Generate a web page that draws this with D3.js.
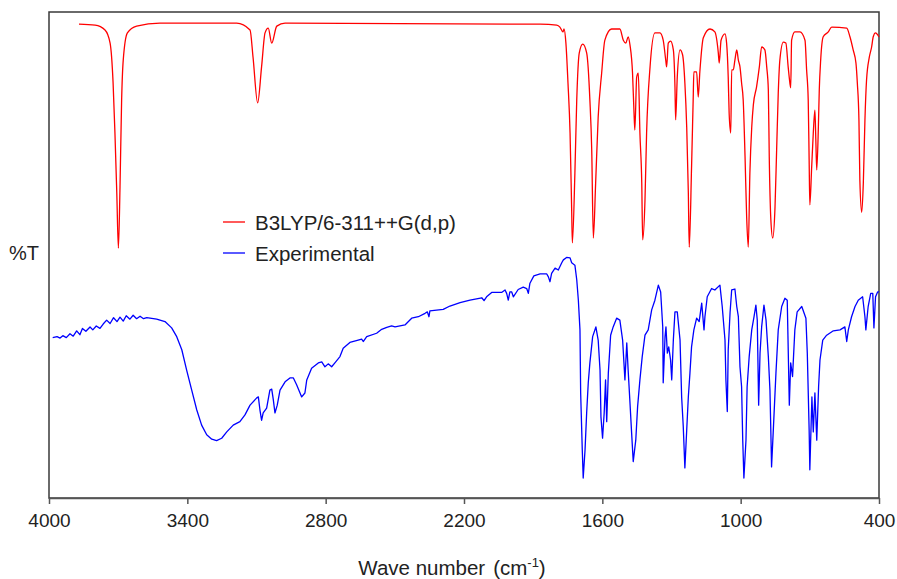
<!DOCTYPE html>
<html>
<head>
<meta charset="utf-8">
<title>IR spectrum</title>
<style>
  body { margin: 0; background: #fff; }
  text { font-family: "Liberation Sans", Arial, sans-serif; fill: #222; }
  .spec { fill: none; stroke-width: 1.3; stroke-linejoin: round; }
</style>
</head>
<body>
<svg width="897" height="579"></svg>
<script src="https://d3js.org/d3.v7.min.js"></script>
<script>
// tick labels of the wave number axis
var xTicks = [4000, 3400, 2800, 2200, 1600, 1000, 400];

// legend entries
var seriesNames = ["B3LYP/6-311++G(d,p)", "Experimental"];
var seriesColors = ["#ff0000", "#0000ff"];

// calculated spectrum: [wave number, %T (arbitrary)]
var calcSpectrum = [
  [3870,97.5],[3800,97.3],[3757,96.3],[3735,93.6],[3722,85.4],[3714,75.1],[3706,62.8],[3699,51.4],
  [3692,64.0],[3685,81.9],[3678,90.1],[3660,95.7],[3620,97.1],[3519,97.7],[3186,97.7],[3128,96.3],
  [3115,90.7],[3095,81.3],[3078,88.7],[3063,95.7],[3049,96.7],[3034,93.6],[3012,97.1],[2976,97.7],
  [1870,97.5],[1798,97.3],[1784,96.9],[1771,95.9],[1766,96.5],[1758,93.6],[1749,85.4],[1740,75.1],
  [1733,59.3],[1730,52.5],[1719,66.9],[1711,81.9],[1700,91.6],[1685,93.4],[1668,91.6],[1654,81.9],
  [1646,71.6],[1639,53.5],[1629,64.8],[1618,78.4],[1603,87.4],[1589,94.2],[1560,96.5],[1524,96.5],
  [1509,94.2],[1498,93.6],[1488,94.9],[1480,93.2],[1469,87.4],[1463,79.8],[1459,75.7],[1451,86.6],
  [1444,87.4],[1437,75.1],[1429,64.8],[1425,53.1],[1415,61.3],[1408,75.1],[1393,88.7],[1372,95.7],
  [1350,95.7],[1336,94.2],[1325,90.1],[1321,88.7],[1314,93.6],[1304,94.0],[1292,92.2],[1285,84.6],
  [1282,77.8],[1275,86.6],[1263,92.2],[1252,91.2],[1242,85.4],[1234,76.3],[1227,62.8],[1223,51.6],
  [1213,68.1],[1206,81.9],[1203,87.7],[1191,87.7],[1184,82.5],[1177,87.7],[1162,94.7],[1133,96.5],
  [1112,95.9],[1097,91.6],[1093,89.5],[1085,94.2],[1068,95.5],[1061,93.6],[1054,86.6],[1050,79.2],
  [1043,75.1],[1039,88.1],[1032,88.1],[1025,90.1],[1017,92.2],[1010,90.1],[1003,88.7],[996,85.4],
  [989,81.9],[981,70.2],[974,57.8],[967,51.6],[960,66.9],[952,76.3],[945,80.9],[931,84.6],
  [919,88.7],[909,92.8],[895,92.2],[887,88.7],[880,84.0],[876,70.2],[869,57.2],[861,53.5],
  [851,59.9],[844,71.6],[837,83.3],[830,90.1],[815,93.8],[804,93.6],[794,88.7],[789,86.4],
  [783,84.4],[779,94.2],[765,95.9],[743,95.9],[721,94.2],[714,88.1],[707,81.9],[703,69.5],
  [700,60.3],[692,68.1],[685,75.1],[678,79.8],[674,73.7],[670,67.5],[663,76.3],[659,84.0],
  [653,90.1],[642,94.9],[620,95.9],[605,96.9],[540,96.7],[526,94.9],[512,92.2],[500,89.5],
  [494,85.4],[487,77.8],[483,65.4],[475,58.8],[468,64.8],[461,77.8],[454,86.0],[442,90.7],
  [432,92.8],[425,94.9],[415,95.7],[403,95.1],[400,94.9]
];

// experimental spectrum: [wave number, %T (arbitrary)]
var expSpectrum = [
  [3984,33.0],[3965,33.2],[3952,32.9],[3940,33.4],[3925,33.0],[3909,33.8],[3895,33.3],[3880,34.4],
  [3866,33.6],[3855,34.9],[3840,34.3],[3822,35.2],[3810,34.6],[3795,35.4],[3779,34.9],[3765,35.8],
  [3750,36.6],[3735,35.9],[3720,37.1],[3705,36.3],[3692,37.2],[3678,36.4],[3665,37.5],[3649,36.8],
  [3635,37.6],[3620,36.9],[3605,37.4],[3590,36.9],[3576,37.1],[3533,36.8],[3497,36.3],[3468,35.0],
  [3446,33.2],[3424,30.5],[3403,26.3],[3381,22.2],[3359,18.1],[3338,15.0],[3316,13.0],[3294,12.1],
  [3273,11.8],[3251,12.3],[3229,13.6],[3201,15.0],[3172,15.7],[3150,17.1],[3128,19.1],[3099,20.6],
  [3092,20.8],[3085,18.1],[3078,16.0],[3071,17.5],[3056,18.5],[3042,22.2],[3034,22.4],[3027,20.2],
  [3020,17.5],[3010,19.1],[2998,22.2],[2976,23.9],[2955,24.7],[2940,24.7],[2926,23.3],[2904,20.8],
  [2890,21.6],[2882,24.3],[2861,26.7],[2832,27.8],[2817,28.0],[2803,27.0],[2789,27.6],[2774,27.0],
  [2760,27.8],[2738,29.1],[2724,30.8],[2695,32.0],[2659,32.5],[2644,32.7],[2637,32.2],[2622,33.2],
  [2579,33.9],[2557,34.7],[2535,35.1],[2514,35.4],[2499,35.2],[2456,35.6],[2427,37.0],[2398,37.3],
  [2369,38.0],[2359,38.3],[2352,37.3],[2348,38.5],[2290,38.8],[2261,39.5],[2217,40.2],[2174,40.7],
  [2123,41.2],[2113,40.6],[2102,41.4],[2080,42.3],[2037,42.3],[2022,42.8],[2015,42.1],[2008,40.7],
  [2001,42.4],[1993,42.4],[1986,41.4],[1965,42.9],[1943,43.4],[1928,43.1],[1921,42.1],[1914,44.2],
  [1897,45.7],[1870,46.1],[1841,46.1],[1834,45.5],[1827,44.5],[1820,46.2],[1805,47.3],[1791,46.9],
  [1776,48.4],[1769,49.0],[1755,49.5],[1740,49.4],[1733,48.4],[1719,47.9],[1711,44.9],[1704,40.7],
  [1697,34.6],[1694,21.6],[1687,9.9],[1683,4.1],[1675,9.9],[1668,17.5],[1661,23.7],[1654,27.8],
  [1642,33.2],[1628,35.2],[1618,32.5],[1610,26.3],[1606,16.7],[1599,12.3],[1592,17.5],[1586,24.3],
  [1581,15.7],[1574,25.7],[1564,33.5],[1553,35.2],[1538,37.0],[1524,36.6],[1512,32.5],[1502,24.3],
  [1494,31.9],[1488,26.3],[1480,19.5],[1473,13.4],[1466,7.5],[1455,11.9],[1447,18.8],[1437,24.3],
  [1427,29.1],[1415,33.5],[1401,34.6],[1386,38.7],[1372,40.7],[1357,43.8],[1347,42.4],[1338,35.2],
  [1336,23.7],[1328,33.2],[1324,35.2],[1318,29.8],[1312,31.1],[1304,28.4],[1299,24.3],[1292,32.5],
  [1285,38.3],[1275,38.3],[1263,32.5],[1256,20.8],[1249,14.7],[1242,6.2],[1234,14.0],[1227,20.8],
  [1220,25.7],[1213,31.1],[1203,34.6],[1191,37.0],[1180,36.3],[1169,40.1],[1159,34.6],[1155,37.3],
  [1145,41.4],[1126,43.1],[1112,42.8],[1090,43.8],[1080,39.4],[1068,32.5],[1064,24.3],[1058,17.8],
  [1054,30.5],[1046,38.1],[1039,42.8],[1025,43.0],[1017,39.4],[1010,37.3],[1003,27.0],[996,22.9],
  [991,11.9],[986,4.1],[977,11.9],[972,22.9],[963,29.1],[952,34.6],[942,37.3],[934,39.7],
  [928,36.6],[922,19.1],[916,29.8],[909,35.2],[899,39.7],[890,36.6],[880,29.1],[873,22.2],
  [869,13.4],[866,6.4],[859,13.4],[847,25.7],[837,34.6],[822,39.4],[808,41.1],[798,40.7],
  [794,31.1],[789,19.1],[783,27.8],[775,25.0],[765,34.6],[755,38.3],[735,39.4],[717,37.0],
  [711,29.8],[703,14.0],[700,5.8],[691,20.8],[685,13.6],[678,21.6],[670,11.9],[662,22.9],
  [656,28.4],[644,32.5],[627,33.5],[598,34.4],[569,34.6],[548,35.2],[540,32.2],[533,34.6],
  [519,37.3],[504,39.4],[490,40.7],[471,41.4],[461,37.3],[457,34.6],[447,39.4],[436,42.1],
  [427,42.1],[422,35.0],[415,41.4],[406,42.4],[400,42.4]
];

var svg = d3.select("svg");

var plotLeft = 49, plotRight = 879, plotTop = 12, plotBottom = 498;

var x = d3.scaleLinear().domain([4000, 400]).range([plotLeft, plotRight]);
var y = d3.scaleLinear().domain([0, 100]).range([plotBottom, plotTop]);

// frame
svg.append("rect")
  .attr("x", plotLeft).attr("y", plotTop)
  .attr("width", plotRight - plotLeft).attr("height", plotBottom - plotTop)
  .attr("fill", "none").attr("stroke", "#3a3a3a").attr("stroke-width", 1.5);

// x axis
var xAxis = d3.axisBottom(x)
  .tickValues(xTicks)
  .tickSize(6)
  .tickSizeOuter(0)
  .tickFormat(d3.format("d"));

var gx = svg.append("g")
  .attr("transform", "translate(0," + plotBottom + ")")
  .call(xAxis);
gx.select(".domain").attr("stroke", "#555").attr("stroke-width", 1.5);
gx.selectAll(".tick line").attr("stroke", "#555").attr("stroke-width", 1.5);
gx.selectAll(".tick text")
  .attr("y", 16)
  .attr("font-size", 19)
  .attr("font-family", "Liberation Sans, Arial, sans-serif")
  .attr("fill", "#222");

// axis title
var title = svg.append("text")
  .attr("x", 452).attr("y", 575)
  .attr("text-anchor", "middle")
  .attr("font-size", 20.5);
title.append("tspan").text("Wave number");
title.append("tspan").attr("dx", 8).text("(cm");
title.append("tspan").attr("font-size", 13).attr("dy", -8).text("-1");
title.append("tspan").attr("dy", 8).text(")");

svg.append("text")
  .attr("x", 9).attr("y", 260)
  .attr("font-size", 20)
  .text("%T");

// spectra (calculated one is a smooth band profile, experimental is raw)
var smoothLine = d3.line()
  .curve(d3.curveMonotoneX)
  .x(function(d) { return x(d[0]); })
  .y(function(d) { return y(d[1]); });

var rawLine = d3.line()
  .x(function(d) { return x(d[0]); })
  .y(function(d) { return y(d[1]); });

svg.append("path")
  .datum(calcSpectrum)
  .attr("class", "spec")
  .attr("stroke", seriesColors[0])
  .attr("d", smoothLine);

svg.append("path")
  .datum(expSpectrum)
  .attr("class", "spec")
  .attr("stroke", seriesColors[1])
  .attr("d", rawLine);

// legend
var legend = svg.append("g").attr("transform", "translate(223,222)");
seriesNames.forEach(function(name, i) {
  var g = legend.append("g").attr("transform", "translate(0," + (i * 31) + ")");
  g.append("line")
    .attr("x1", 0).attr("x2", 22)
    .attr("stroke", seriesColors[i]).attr("stroke-width", 1.3);
  g.append("text")
    .attr("x", 32).attr("y", 8)
    .attr("font-size", 20.5)
    .text(name);
});
</script>
</body>
</html>
